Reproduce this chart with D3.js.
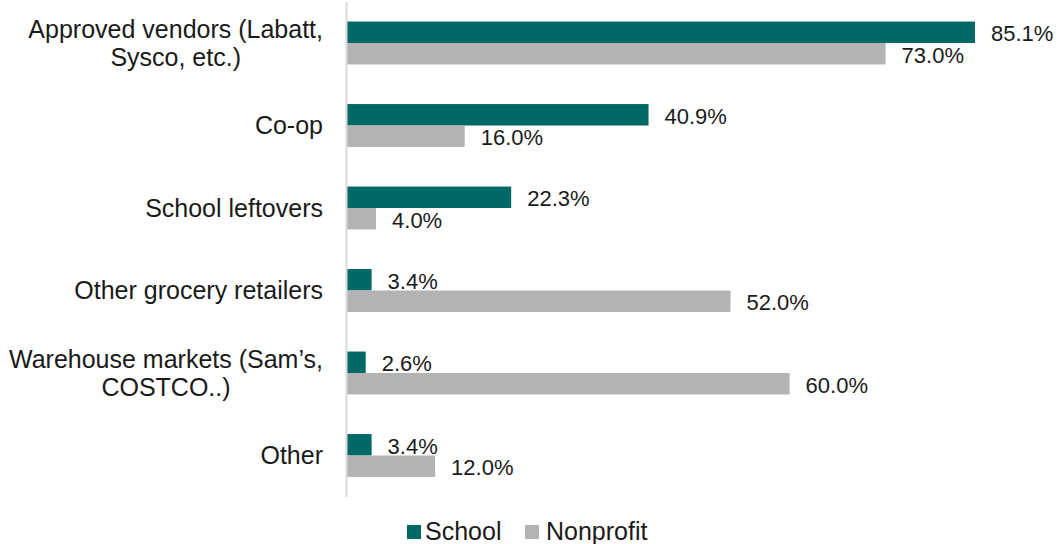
<!DOCTYPE html>
<html>
<head>
<meta charset="utf-8">
<script src="https://cdn.jsdelivr.net/npm/d3@7"></script>
<style>
  html, body { margin: 0; padding: 0; background: #ffffff; }
  svg { display: block; font-family: "Liberation Sans", Arial, sans-serif; }
</style>
</head>
<body>
<svg id="chart" width="1058" height="544"></svg>
<script>
// Food sourcing channels, share of respondents by organisation type
const categories = [
  ["Approved vendors (Labatt,", "Sysco, etc.)"],
  ["Co-op"],
  ["School leftovers"],
  ["Other grocery retailers"],
  ["Warehouse markets (Sam\u2019s,", "COSTCO..)"],
  ["Other"]
];
const seriesNames = ["School", "Nonprofit"];
const schoolValues = [85.1, 40.9, 22.3, 3.4, 2.6, 3.4];
const nonprofitValues = [73.0, 16.0, 4.0, 52.0, 60.0, 12.0];
const colors = ["#006865", "#b3b3b3"];

const svg = d3.select("#chart");
const keys = categories.map((c, i) => "c" + i);

const x = d3.scaleLinear().domain([0, 100]).range([346.5, 1085]);
const y = d3.scaleBand().domain(keys).range([1.75, 496.75]).paddingInner(0.48).paddingOuter(0.24);
const sub = d3.scaleBand().domain(seriesNames).range([0, y.bandwidth()]);

const series = [schoolValues, nonprofitValues];

// Bars and value labels
seriesNames.forEach((name, si) => {
  const g = svg.append("g");
  g.selectAll("rect")
    .data(series[si])
    .join("rect")
    .attr("x", x(0))
    .attr("y", (d, i) => y(keys[i]) + sub(name))
    .attr("width", d => x(d) - x(0))
    .attr("height", sub.bandwidth())
    .attr("fill", colors[si]);

  g.selectAll("text")
    .data(series[si])
    .join("text")
    .attr("x", d => x(d) + 16)
    .attr("y", (d, i) => y(keys[i]) + sub(name) + sub.bandwidth() / 2 + 1.5)
    .attr("dy", "0.35em")
    .attr("font-size", 22)
    .attr("fill", "#1a1a1a")
    .text(d => d.toFixed(1) + "%");
});

// Category axis line
const yAxis = d3.axisLeft(y).tickSize(0).tickFormat("");
const axisG = svg.append("g").attr("transform", `translate(${x(0)},0)`).call(yAxis);
axisG.select(".domain").attr("stroke", "#d9d9d9").attr("stroke-width", 2)
  .attr("d", "M0,2V497");

// Category labels: each block right-aligned to the axis, lines centred within the block
const labelRight = 323;
const labelG = svg.append("g");
categories.forEach((lines, i) => {
  const cy = y(keys[i]) + y.bandwidth() / 2;
  const lh = 28;
  const t = labelG.append("text")
    .attr("font-size", 25)
    .attr("text-anchor", "middle")
    .attr("fill", "#1a1a1a");
  const spans = lines.map((ln, j) => t.append("tspan")
    .attr("y", cy + (j - (lines.length - 1) / 2) * lh)
    .attr("dy", "0.35em")
    .text(ln));
  const maxW = d3.max(spans, s => s.node().getComputedTextLength());
  spans.forEach(s => s.attr("x", labelRight - maxW / 2));
});

// Legend
const legend = svg.append("g");
const legendItems = [{ name: "School", x: 407, tx: 425 }, { name: "Nonprofit", x: 525, tx: 546 }];
legendItems.forEach((it, i) => {
  legend.append("rect").attr("x", it.x).attr("y", 525).attr("width", 14).attr("height", 14).attr("fill", colors[i]);
  legend.append("text").attr("x", it.tx).attr("y", 540)
    .attr("font-size", 25).attr("fill", "#1a1a1a").text(it.name);
});
</script>
</body>
</html>
